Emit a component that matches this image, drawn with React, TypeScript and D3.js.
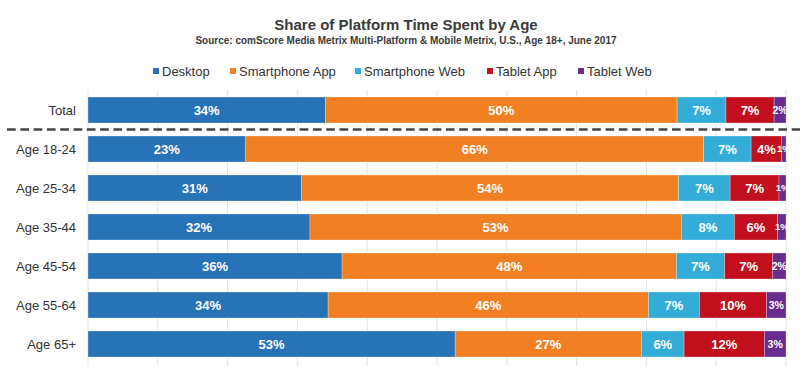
import { useEffect, useRef } from 'react';
import * as d3 from 'd3';

const categories = ['Total', 'Age 18-24', 'Age 25-34', 'Age 35-44', 'Age 45-54', 'Age 55-64', 'Age 65+'];
const seriesNames = ['Desktop', 'Smartphone App', 'Smartphone Web', 'Tablet App', 'Tablet Web'];
const seriesColors = ['#2872b8', '#f27f22', '#33acd8', '#c10f1e', '#682c90'];

// share of time in percent, per series, in category order
const desktop = [34.0, 22.6, 30.6, 31.8, 36.4, 34.4, 52.6];
const smartphoneApp = [50.4, 65.6, 54.0, 53.2, 47.9, 45.9, 26.7];
const smartphoneWeb = [7.0, 6.8, 7.4, 7.6, 6.9, 7.3, 6.1];
const tabletApp = [6.9, 4.4, 7.0, 6.2, 6.9, 9.6, 11.5];
const tabletWeb = [1.7, 0.6, 1.0, 1.2, 1.9, 2.8, 3.1];

const ticks = [0, 10, 20, 30, 40, 50, 60, 70, 80, 90, 100];

const FONT = '"Liberation Sans", Arial, Helvetica, sans-serif';

export default function App() {
   const ref = useRef<SVGSVGElement>(null);

   useEffect(() => {
      const svg = d3.select(ref.current);
      svg.selectAll('*').remove();

      const width = 800;
      const height = 369;

      const rows = categories.map((c, i) => ({
         category: c,
         Desktop: desktop[i],
         'Smartphone App': smartphoneApp[i],
         'Smartphone Web': smartphoneWeb[i],
         'Tablet App': tabletApp[i],
         'Tablet Web': tabletWeb[i],
      }));

      const x = d3.scaleLinear().domain([0, 100]).range([88, 786]);
      const y = d3.scaleBand().domain(categories).range([84, 370]).padding(1 / 3);
      const color = d3.scaleOrdinal<string, string>().domain(seriesNames).range(seriesColors);

      svg.attr('width', width).attr('height', height);

      // title
      svg.append('text')
         .attr('x', 406).attr('y', 30)
         .attr('text-anchor', 'middle')
         .style('font', `bold 15px ${FONT}`)
         .attr('fill', '#3a3a3a')
         .text('Share of Platform Time Spent by Age');

      svg.append('text')
         .attr('x', 406).attr('y', 44)
         .attr('text-anchor', 'middle')
         .style('font', `bold 10px ${FONT}`)
         .attr('fill', '#3a3a3a')
         .text('Source: comScore Media Metrix Multi-Platform & Mobile Metrix, U.S., Age 18+, June 2017');

      // legend
      const legendX = [153, 230, 355, 487, 578];
      const legend = svg.append('g');
      seriesNames.forEach((s, i) => {
         legend.append('rect')
            .attr('x', legendX[i]).attr('y', 68)
            .attr('width', 6).attr('height', 6)
            .attr('fill', color(s));
         legend.append('text')
            .attr('x', legendX[i] + 9).attr('y', 76)
            .style('font', `13px ${FONT}`)
            .attr('fill', '#333')
            .text(s);
      });

      // gridlines
      svg.append('g')
         .selectAll('line')
         .data(ticks)
         .enter()
         .append('line')
         .attr('x1', (d) => x(d)).attr('x2', (d) => x(d))
         .attr('y1', 90).attr('y2', 366)
         .attr('stroke', '#e3e3e3')
         .attr('stroke-width', 1);

      // stacked bars
      const stack = d3.stack<any>().keys(seriesNames);
      const layers = stack(rows);

      const groups = svg.append('g')
         .selectAll('g')
         .data(layers)
         .enter()
         .append('g')
         .attr('fill', (d) => color(d.key));

      groups.selectAll('rect')
         .data((d) => d)
         .enter()
         .append('rect')
         .attr('x', (d) => x(d[0]))
         .attr('y', (d) => y(d.data.category)!)
         .attr('width', (d) => x(d[1]) - x(d[0]))
         .attr('height', y.bandwidth())
         .attr('stroke', 'rgba(255,255,255,0.45)')
         .attr('stroke-width', 0.6);

      groups.selectAll('text')
         .data((d) => d)
         .enter()
         .append('text')
         .attr('x', (d) => (x(d[0]) + x(d[1])) / 2)
         .attr('y', (d) => y(d.data.category)! + y.bandwidth() / 2)
         .attr('dy', '0.36em')
         .attr('text-anchor', 'middle')
         .attr('fill', '#fff')
         .style('font-family', FONT)
         .style('font-weight', 'bold')
         .style('font-size', (d) => {
            const w = x(d[1]) - x(d[0]);
            return w < 10 ? '9.5px' : w < 25 ? '10.5px' : '13px';
         })
         .text((d) => Math.round(d[1] - d[0]) + '%');

      // category labels
      svg.append('g')
         .selectAll('text')
         .data(categories)
         .enter()
         .append('text')
         .attr('x', 76)
         .attr('y', (d) => y(d)! + y.bandwidth() / 2)
         .attr('dy', '0.36em')
         .attr('text-anchor', 'end')
         .style('font', `13px ${FONT}`)
         .attr('fill', '#333')
         .text((d) => d);

      // separator between total and age groups
      const sepY = (y('Total')! + y.bandwidth() + y('Age 18-24')!) / 2;
      svg.append('line')
         .attr('x1', 7).attr('x2', 800)
         .attr('y1', sepY).attr('y2', sepY)
         .attr('stroke', '#444')
         .attr('stroke-width', 2.6)
         .attr('stroke-dasharray', '8.7,4.6');
   }, []);

   return (
      <svg ref={ref} style={{ position: 'absolute', left: 0, top: 0, background: '#fff' }} />
   );
}
